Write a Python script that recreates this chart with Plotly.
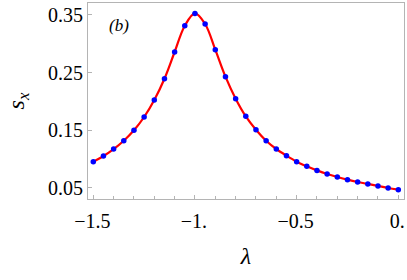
import plotly.graph_objects as go

lam = [-1.50, -1.45, -1.40, -1.35, -1.30, -1.25, -1.20, -1.15, -1.10, -1.05, -1.00,
       -0.95, -0.90, -0.85, -0.80, -0.75, -0.70, -0.65, -0.60, -0.55, -0.50,
       -0.45, -0.40, -0.35, -0.30, -0.25, -0.20, -0.15, -0.10, -0.05, 0.00]
sx = [0.0956, 0.1055, 0.1176, 0.1320, 0.1500, 0.1731, 0.2026, 0.2395, 0.2858, 0.3314, 0.3528,
      0.3344, 0.2898, 0.2430, 0.2049, 0.1742, 0.1511, 0.1320, 0.1176, 0.1060, 0.0956,
      0.0875, 0.0805, 0.0743, 0.0691, 0.0644, 0.0604, 0.0570, 0.0535, 0.0500, 0.0471]

x_tickvals = [-1.5, -1.0, -0.5, 0.0]
x_ticktext = ["\u22121.5", "\u22121.", "\u22120.5", "0."]
y_tickvals = [0.05, 0.15, 0.25, 0.35]
y_ticktext = ["0.05", "0.15", "0.25", "0.35"]

FONT = "'Liberation Serif', 'Times New Roman', Times, serif"
FRAME = "#b4b4b4"

fig = go.Figure()
fig.add_trace(go.Scatter(x=lam, y=sx, mode="lines", line=dict(color="#ff0000", width=2.2, shape="spline"),
                         showlegend=False, hoverinfo="skip"))
fig.add_trace(go.Scatter(x=lam, y=sx, mode="markers", marker=dict(color="#0000ff", size=5.5),
                         showlegend=False))

fig.update_layout(
    width=407, height=280,
    margin=dict(l=88, r=3, t=3, b=81),
    paper_bgcolor="white", plot_bgcolor="white",
    font=dict(family=FONT, size=20, color="black"),
    xaxis=dict(range=[-1.526, 0.028], showgrid=False, zeroline=False,
               showline=True, mirror=True, linecolor=FRAME, linewidth=1,
               tickmode="array", tickvals=x_tickvals, ticktext=x_ticktext,
               ticks="inside", ticklen=4, tickcolor=FRAME,
               tickfont=dict(family=FONT, size=20),
               minor=dict(ticks="inside", ticklen=3, tickcolor=FRAME, tickmode="linear", tick0=0, dtick=0.1),
               ticklabelstandoff=4, ticklabelshift=-1, ticklabeloverflow="allow",
               title=dict(text="<i>\u03bb</i>", font=dict(size=24, family=FONT), standoff=16)),
    yaxis=dict(range=[0.0309, 0.3708], showgrid=False, zeroline=False,
               showline=True, mirror=True, linecolor=FRAME, linewidth=1,
               tickmode="array", tickvals=y_tickvals, ticktext=y_ticktext,
               ticks="inside", ticklen=4, tickcolor=FRAME,
               tickfont=dict(family=FONT, size=20),
               ticklabelstandoff=0,
               title=dict(text="<i>s</i><sub><i>x</i></sub>", font=dict(size=24, family=FONT), standoff=16)),
    annotations=[dict(text="<i>(b)</i>", x=0.098, y=0.884, xref="paper", yref="paper",
                      showarrow=False, font=dict(size=17, family=FONT), xanchor="center", yanchor="middle")],
)

fig.write_html("out.html", config={"displayModeBar": False},
               post_script="document.body.style.margin='0';document.body.style.overflow='hidden';")
